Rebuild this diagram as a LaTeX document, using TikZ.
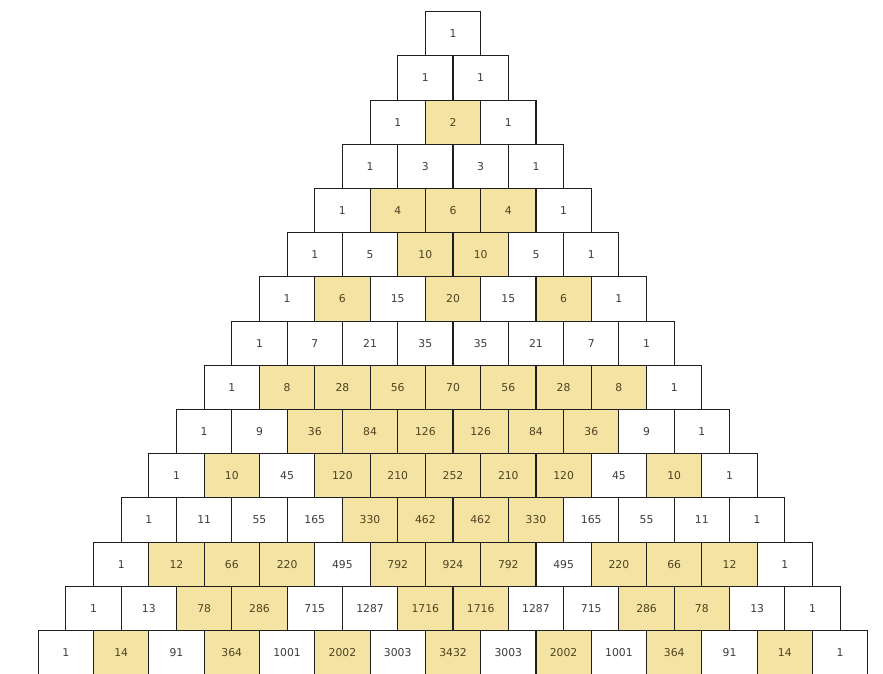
\documentclass[tikz,border=0pt]{standalone}
\usepackage{fontspec}
\setmainfont{DejaVu Sans}
\definecolor{evenfill}{HTML}{F4E3A3}
\definecolor{eventext}{HTML}{4F4220}
\definecolor{oddtext}{HTML}{3C3C3C}
\definecolor{cellline}{HTML}{1E1E1E}
\tikzset{
  cell/.style={minimum width=55.3pt, minimum height=44.2pt,
    inner sep=0pt, outer sep=0pt, font=\fontsize{10.8}{12}\selectfont, fill=white, text=oddtext},
  evencell/.style={cell, fill=evenfill, text=eventext},
  cellborder/.style={draw=cellline, line width=1.1pt}
}
\newcommand{\pascalrows}{
 {1},
 {1,1},
 {1,2,1},
 {1,3,3,1},
 {1,4,6,4,1},
 {1,5,10,10,5,1},
 {1,6,15,20,15,6,1},
 {1,7,21,35,35,21,7,1},
 {1,8,28,56,70,56,28,8,1},
 {1,9,36,84,126,126,84,36,9,1},
 {1,10,45,120,210,252,210,120,45,10,1},
 {1,11,55,165,330,462,462,330,165,55,11,1},
 {1,12,66,220,495,792,924,792,495,220,66,12,1},
 {1,13,78,286,715,1287,1716,1716,1287,715,286,78,13,1},
 {1,14,91,364,1001,2002,3003,3432,3003,2002,1001,364,91,14,1}}
\begin{document}
\begin{tikzpicture}[x=1pt,y=1pt]
\useasboundingbox (0,0) rectangle (883,-673);
\clip (0,0) rectangle (883,-673);
\foreach \row [count=\r from 0] in \pascalrows
{
  \foreach \v [count=\k from 0] in \row {
    \ifodd\v\relax
      \node[cell] (c-\r-\k) at ({453+(\k-\r/2)*55.3},{-(33.8+\r*44.2)}) {\v};
    \else
      \node[evencell] (c-\r-\k) at ({453+(\k-\r/2)*55.3},{-(33.8+\r*44.2)}) {\v};
    \fi
  }
}
\foreach \r in {0,...,14}{
  \foreach \k in {0,...,\r}{
    \draw[cellborder] (c-\r-\k.south west) rectangle (c-\r-\k.north east);
  }
}
\end{tikzpicture}
\end{document}
